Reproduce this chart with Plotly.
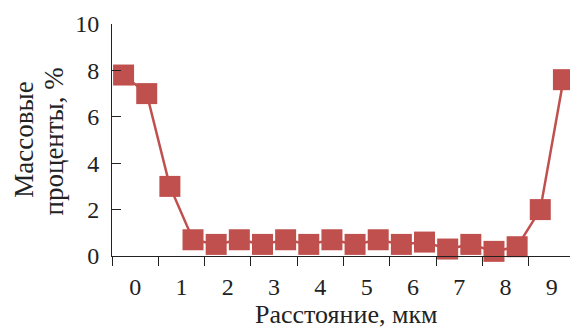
import plotly.graph_objects as go

# Data
distance = [0.25, 0.75, 1.25, 1.75, 2.25, 2.75, 3.25, 3.75, 4.25, 4.75,
            5.25, 5.75, 6.25, 6.75, 7.25, 7.75, 8.25, 8.75, 9.25, 9.75]
mass_pct = [7.8, 7.0, 3.0, 0.7, 0.5, 0.7, 0.5, 0.7, 0.5, 0.7,
            0.5, 0.7, 0.5, 0.6, 0.3, 0.5, 0.2, 0.4, 2.0, 7.6]
x_label_pos = [0.5, 1.5, 2.5, 3.5, 4.5, 5.5, 6.5, 7.5, 8.5, 9.5]
x_label_text = ["0", "1", "2", "3", "4", "5", "6", "7", "8", "9"]
x_tick_pos = [0, 1, 2, 3, 4, 5, 6, 7, 8, 9, 10]
y_ticks = [0, 2, 4, 6, 8, 10]

color = "#c0504d"
font = "'Liberation Serif', 'Times New Roman', Times, serif"
axis_col = "#222222"
txt_col = "#222222"

fig = go.Figure()
fig.add_trace(go.Scatter(
    x=distance, y=mass_pct, mode="lines+markers",
    line=dict(color=color, width=2.5),
    marker=dict(symbol="square", size=21, color=color,
                line=dict(width=0)),
    cliponaxis=False, showlegend=False,
))

# page body has an 8px margin, so the figure is shifted by 8px
fig.update_layout(
    width=570, height=322,
    margin=dict(l=104, r=3, t=16, b=74),
    plot_bgcolor="white", paper_bgcolor="white",
    font=dict(family=font, size=24, color=txt_col),
    xaxis=dict(
        range=[0, 10], showgrid=False, zeroline=False, automargin=False,
        showline=True, linecolor=axis_col, linewidth=1,
        tickmode="array", tickvals=x_label_pos, ticktext=x_label_text,
        ticks="outside", ticklen=9, tickcolor="rgba(0,0,0,0)",
        minor=dict(tickmode="array", tickvals=x_tick_pos, ticks="outside",
                   ticklen=9, tickcolor=axis_col, tickwidth=1, showgrid=False),
        tickfont=dict(size=24),
    ),
    yaxis=dict(
        range=[0, 10], showgrid=False, zeroline=False, automargin=False,
        showline=True, linecolor=axis_col, linewidth=1,
        tickmode="array", tickvals=y_ticks,
        ticks="inside", ticklen=9, tickcolor=axis_col, tickwidth=1,
        ticklabelstandoff=7,
        tickfont=dict(size=24),
    ),
    annotations=[
        dict(text="Массовые", textangle=-90,
             xref="paper", yref="paper", x=-0.192, y=0.502,
             xanchor="center", yanchor="middle", showarrow=False,
             font=dict(family=font, size=27, color=txt_col)),
        dict(text="проценты, %", textangle=-90,
             xref="paper", yref="paper", x=-0.125, y=0.494,
             xanchor="center", yanchor="middle", showarrow=False,
             font=dict(family=font, size=27, color=txt_col)),
        dict(text="Расстояние, мкм",
             xref="paper", yref="paper", x=0.505, y=-0.252,
             xanchor="center", yanchor="middle", showarrow=False,
             borderpad=0,
             font=dict(family=font, size=26, color=txt_col)),
    ],
)

fig.write_html("out.html")
